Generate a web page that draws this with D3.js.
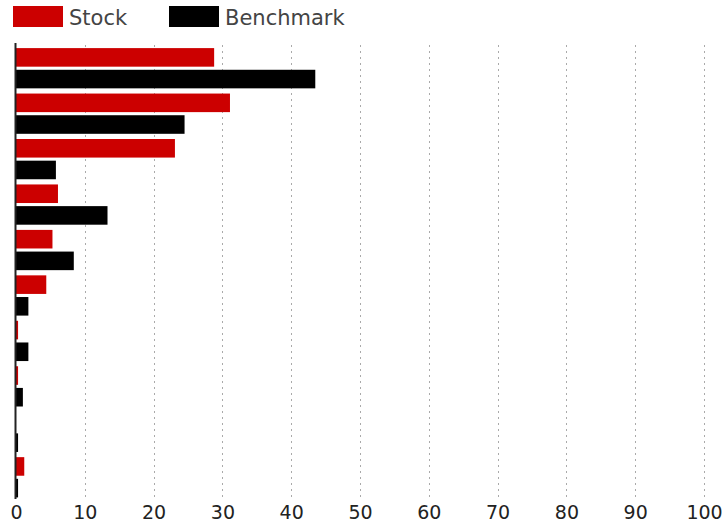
<!DOCTYPE html>
<html><head><meta charset="utf-8">
<script src="https://cdn.jsdelivr.net/npm/d3@7"></script>
<style>body{margin:0;background:#fff}svg{display:block}</style>
</head><body>
<svg id="c" width="728" height="527"></svg>
<script>
const categories = ["C1","C2","C3","C4","C5","C6","C7","C8","C9","C10"];
const seriesNames = ["Stock","Benchmark"];
const stockValues = [28.8, 31.1, 23.1, 6.1, 5.3, 4.4, 0.3, 0.3, 0, 1.2];
const benchmarkValues = [43.5, 24.5, 5.8, 13.3, 8.4, 1.8, 1.8, 1.0, 0.3, 0.3];
const tickValues = [0,10,20,30,40,50,60,70,80,90,100];
const colors = ["#cc0000", "#000000"];

const svg = d3.select("#c");
const x = d3.scaleLinear().domain([0,100]).range([16,704]);
const y = d3.scaleBand().domain(categories).range([45.5,500]).paddingInner(0);
const ySub = d3.scaleBand().domain(seriesNames).range([0,y.bandwidth()]).paddingInner(0.143).paddingOuter(0.12);

// grid
svg.append("g").selectAll("line").data(tickValues.filter(d=>d>0)).join("line")
  .attr("x1",d=>Math.round(x(d))+0.5).attr("x2",d=>Math.round(x(d))+0.5)
  .attr("y1",45).attr("y2",498)
  .attr("stroke","#aaa").attr("stroke-width",1).attr("stroke-dasharray","2,4");

// bars
const data = categories.map((c,i)=>({c, vals:[stockValues[i], benchmarkValues[i]]}));
const g = svg.append("g").selectAll("g").data(data).join("g")
  .attr("transform",d=>`translate(0,${y(d.c)})`);
g.selectAll("rect").data(d=>d.vals.map((v,j)=>({v, s:seriesNames[j], j}))).join("rect")
  .attr("x",x(0)).attr("y",d=>ySub(d.s)).attr("height",ySub.bandwidth())
  .attr("width",d=>Math.max(0,x(d.v)-x(0)))
  .attr("fill",d=>colors[d.j]);

// axis line
svg.append("line").attr("x1",15.5).attr("x2",15.5).attr("y1",43).attr("y2",499)
  .attr("stroke","#222").attr("stroke-width",2);

// x labels
const xAxis = d3.axisBottom(x).tickValues(tickValues).tickSize(0).tickPadding(0);
const ax = svg.append("g").attr("transform","translate(0,505)").call(xAxis);
ax.select(".domain").remove();
ax.selectAll("text").attr("font-family","DejaVu Sans, Verdana, sans-serif")
  .attr("font-size","19px").attr("fill","#222").attr("dy","0.71em");

// legend
const leg = svg.append("g");
const legX = [13,169];
seriesNames.forEach((s,i)=>{
  leg.append("rect").attr("x",legX[i]).attr("y",6).attr("width",50).attr("height",21).attr("fill",colors[i]);
  leg.append("text").attr("x",legX[i]+56).attr("y",25).text(s)
    .attr("font-family","DejaVu Sans, Verdana, sans-serif").attr("font-size","21px").attr("fill","#444");
});
</script>
</body></html>
